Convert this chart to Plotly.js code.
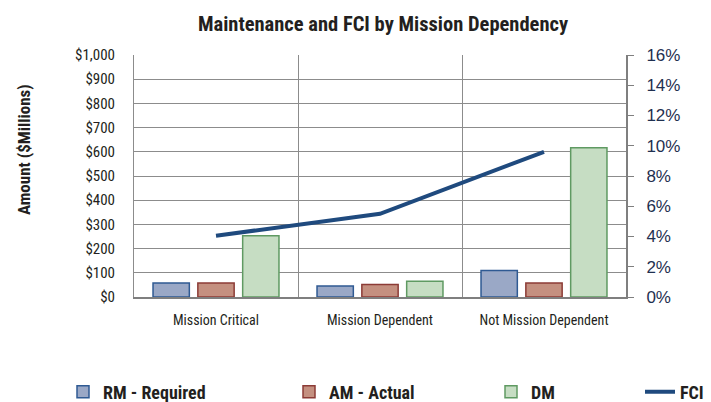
<!DOCTYPE html>
<html><head><meta charset="utf-8">
<script src="https://cdn.plot.ly/plotly-3.0.1.min.js"></script>
<style>html,body{margin:0;padding:0;background:#fff}#chart{width:711px;height:402px}</style>
</head><body><div id="chart"></div>
<script>
const categories = ["Mission Critical", "Mission Dependent", "Not Mission Dependent"];
const rmRequired = [58, 45, 110];
const amActual = [58, 52, 58];
const dm = [253, 65, 617];
const fci = [0.0405, 0.055, 0.096];
const leftTickVals = [0,100,200,300,400,500,600,700,800,900,1000];
const leftTickText = ["$0","$100","$200","$300","$400","$500","$600","$700","$800","$900","$1,000"];
const rightTickVals = [0,0.02,0.04,0.06,0.08,0.10,0.12,0.14,0.16];
const rightTickText = ["0%","2%","4%","6%","8%","10%","12%","14%","16%"];
const yTitle = "Amount ($Millions)";

const narrow = "'Roboto Condensed', 'Liberation Sans Narrow', Roboto, sans-serif";
const legFont = {family:narrow, size:18, color:"#231f20", weight:"bold"};
const traces = [
  {type:"bar", name:"RM - Required", x:categories, y:rmRequired, legend:"legend",
   marker:{color:"#9aa8c6", line:{color:"#2f5a93", width:1.5}}},
  {type:"bar", name:"AM - Actual", x:categories, y:amActual, legend:"legend2",
   marker:{color:"#c49080", line:{color:"#8c3b36", width:1.5}}},
  {type:"bar", name:"DM", x:categories, y:dm, legend:"legend3",
   marker:{color:"#c6ddc3", line:{color:"#5f9a62", width:1.5}}},
  {type:"scatter", mode:"lines", name:"FCI", x:categories, y:fci, yaxis:"y2", legend:"legend4",
   line:{color:"#1f4a7e", width:4}}
];
function leg(x){
  return {orientation:"h", xref:"container", x:x, xanchor:"left", yref:"container", y:(402-392)/402, yanchor:"middle",
    bgcolor:"rgba(0,0,0,0)", font:legFont, itemwidth:30};
}
const layout = {
  width:711, height:402,
  margin:{l:134, r:85, t:55, b:105, autoexpand:false},
  paper_bgcolor:"#fff", plot_bgcolor:"#fff",
  font:{family:narrow, color:"#222"},
  title:{text:"<b>Maintenance and FCI by Mission Dependency</b>", x:383/711, xanchor:"center", y:1-24/402, yanchor:"middle",
    font:{family:narrow, size:20.5, color:"#231f20"}},
  barmode:"group", bargap:0.18, bargroupgap:0.19,
  xaxis:{type:"category", tickson:"boundaries", showgrid:true, gridcolor:"#8c8c8c", gridwidth:1,
    ticks:"", showline:true, linecolor:"#7f7f7f", linewidth:2, mirror:false,
    tickfont:{family:narrow, size:14, color:"#231f20"}, ticklabelstandoff:9},
  yaxis:{range:[0,1000], tickvals:leftTickVals, ticktext:leftTickText, showgrid:true, gridcolor:"#8c8c8c", gridwidth:1,
    showline:true, linecolor:"#8c8c8c", linewidth:1, ticks:"", zeroline:false, ticklabelstandoff:15,
    tickfont:{family:narrow, size:15, color:"#231f20"}},
  yaxis2:{range:[0,0.16], overlaying:"y", side:"right", tickvals:rightTickVals, ticktext:rightTickText,
    showgrid:false, zeroline:false, showline:true, linecolor:"#7f7f7f", linewidth:2,
    ticks:"outside", ticklen:6, tickcolor:"#7f7f7f", tickwidth:1, ticklabelstandoff:9,
    tickfont:{family:"'Liberation Sans', 'DejaVu Sans', sans-serif", size:17, color:"#1f3050"}},
  annotations:[{text:"<b>"+yTitle+"</b>", textangle:-90, xref:"paper", yref:"paper",
    x:(24-134)/492, y:1-(150-55)/242, xanchor:"center", yanchor:"middle", showarrow:false,
    font:{family:narrow, size:17, color:"#231f20"}}],
  showlegend:true,
  legend:leg(63/711), legend2:leg(289/711), legend3:leg(491/711), legend4:leg(640/711)
};
Plotly.newPlot("chart", traces, layout, {displayModeBar:false, staticPlot:true});
</script></body></html>
